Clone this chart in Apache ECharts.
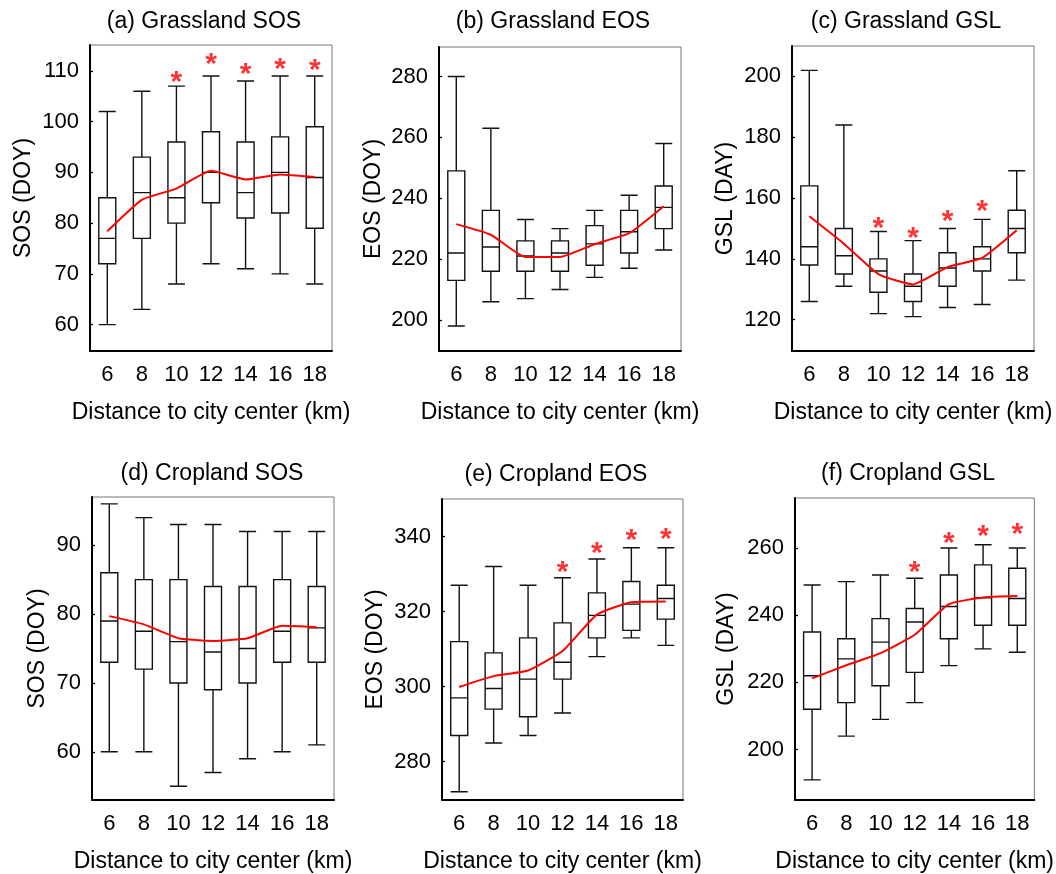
<!DOCTYPE html>
<html>
<head>
<meta charset="utf-8">
<script src="https://cdn.jsdelivr.net/npm/echarts@6/dist/echarts.min.js"></script>
<style>html,body{margin:0;padding:0;background:#fff;}#c{width:1056px;height:874px;}</style>
</head>
<body>
<div id="c"></div>
<script>
// ---------- DATA ----------
const categories = ['6', '8', '10', '12', '14', '16', '18'];
const xAxisName = 'Distance to city center (km)';

// box data: [min, Q1, median, Q3, max]
const grassSOSBox = [[60,72,77,85,102],[63,77,86,93,106],[68,80,85,96,107],[72,84,90,98,109],[71,81,86,96,108],[70,82,90,97,109],[68,79,89,99,109]];
const grassSOSMean = [78.4,84.6,86.8,90.3,88.6,89.6,89.1];
const grassSOSStar = [null,null,108.7,112.1,110.3,111.3,111.0];
const grassSOSTicks = [60,70,80,90,100,110];

const grassEOSBox = [[198,213,222,249,280],[206,216,224,236,263],[207,216,221,226,233],[210,216,222,226,230],[214,218,225,231,236],[217,222,229,236,241],[223,230,237,244,258]];
const grassEOSMean = [231.5,228,220.7,220.7,224.9,228.5,237.4];
const grassEOSStar = [null,null,null,null,null,null,null];
const grassEOSTicks = [200,220,240,260,280];

const grassGSLBox = [[126,138,144,164,202],[131,135,141,150,184],[122,129,136,140,149],[121,126,131,135,146],[124,131,137,142,150],[125,136,140,144,153],[133,142,150,156,169]];
const grassGSLMean = [154,145,135,131.6,137.3,140.3,149.4];
const grassGSLStar = [null,null,151.6,148.3,154,157,null];
const grassGSLTicks = [120,140,160,180,200];

const cropSOSBox = [[60,73,79,86,96],[60,72,77.5,85,94],[55,70,76,85,93],[57,69,74.5,84,93],[59,70,75,84,92],[60,73,77.5,85,92],[61,73,78,84,92]];
const cropSOSMean = [79.7,78.5,76.5,76.1,76.5,78.3,78.1];
const cropSOSStar = [null,null,null,null,null,null,null];
const cropSOSTicks = [60,70,80,90];

const cropEOSBox = [[272,287,297,312,327],[285,294,299.5,309,332],[287,292,302,313,327],[293,302,306.5,317,329],[308,313,319,325,334],[313,315,322,328,337],[311,318,323.5,327,337]];
const cropEOSMean = [299.9,302.8,304.3,309.5,319.2,322.5,322.7];
const cropEOSStar = [null,null,null,331.7,336.7,340.3,340.6];
const cropEOSTicks = [280,300,320,340];

const cropGSLBox = [[191,212,222,235,249],[204,214,227,233,250],[209,219,232,239,252],[214,223,238,242,251],[225,233,242.6,252,260],[230,237,245.2,255,261],[229,237,245,254,260]];
const cropGSLMean = [221.2,225.1,228.7,234.2,243.3,245.3,245.7];
const cropGSLStar = [null,null,null,254.1,262.9,264.9,265.4];
const cropGSLTicks = [200,220,240,260];

// ---------- LAYOUT ----------
const FONT = 'Liberation Sans, Arial, sans-serif';
const panels = [
  {title:'(a) Grassland SOS', yName:'SOS (DOY)', box:grassSOSBox, mean:grassSOSMean, star:grassSOSStar, ticks:grassSOSTicks, min:54.8, max:115.1, g:{left:90, top:45, width:242, height:306}, tx:204, ty:21, yGap:55},
  {title:'(b) Grassland EOS', yName:'EOS (DOY)', box:grassEOSBox, mean:grassEOSMean, star:grassEOSStar, ticks:grassEOSTicks, min:189.8, max:289.7, g:{left:439, top:47, width:242, height:304}, tx:553, ty:21, yGap:54},
  {title:'(c) Grassland GSL', yName:'GSL (DAY)', box:grassGSLBox, mean:grassGSLMean, star:grassGSLStar, ticks:grassGSLTicks, min:109.7, max:210, g:{left:792, top:46, width:242, height:305}, tx:906, ty:21, yGap:55},
  {title:'(d) Cropland SOS', yName:'SOS (DOY)', box:cropSOSBox, mean:cropSOSMean, star:cropSOSStar, ticks:cropSOSTicks, min:53, max:97, g:{left:92, top:497, width:242, height:306}, tx:212, ty:473, yGap:43},
  {title:'(e) Cropland EOS', yName:'EOS (DOY)', box:cropEOSBox, mean:cropEOSMean, star:cropEOSStar, ticks:cropEOSTicks, min:269.8, max:350, g:{left:442, top:499, width:241, height:305}, tx:556, ty:474, yGap:55},
  {title:'(f) Cropland GSL', yName:'GSL (DAY)', box:cropGSLBox, mean:cropGSLMean, star:cropGSLStar, ticks:cropGSLTicks, min:185, max:274.9, g:{left:795, top:498, width:241, height:305}, tx:908, ty:473, yGap:57}
];

const option = {
  animation: false,
  backgroundColor: '#fff',
  textStyle: {fontFamily: FONT},
  title: [], grid: [], xAxis: [], yAxis: [], series: []
};

panels.forEach((p, i) => {
  option.title.push({
    text: p.title, left: p.tx, top: p.ty - 11, textAlign: 'center', padding: 0,
    textStyle: {fontSize: 23, fontWeight: 'normal', color: '#000', fontFamily: FONT}
  });
  option.grid.push(Object.assign({show: true, borderColor: '#777', borderWidth: 1, backgroundColor: 'transparent', containLabel: false}, p.g));
  option.xAxis.push({
    type: 'category', gridIndex: i, data: categories, boundaryGap: true,
    axisLine: {lineStyle: {color: '#000', width: 2}},
    axisTick: {inside: true, length: 8, alignWithLabel: true, lineStyle: {color: '#000', width: 1.3}},
    axisLabel: {fontSize: 22, color: '#000', margin: 13, fontFamily: FONT},
    splitLine: {show: false},
    name: xAxisName, nameLocation: 'middle', nameGap: 50,
    nameTextStyle: {fontSize: 23, color: '#000', fontFamily: FONT}
  });
  option.yAxis.push({
    type: 'value', gridIndex: i, min: p.min, max: p.max,
    axisLine: {show: true, lineStyle: {color: '#000', width: 2}},
    axisTick: {show: true, inside: true, length: 3, customValues: p.ticks, lineStyle: {color: '#000', width: 1.3}},
    axisLabel: {fontSize: 22, color: '#000', margin: 11, customValues: p.ticks, fontFamily: FONT},
    splitLine: {show: false},
    name: p.yName, nameLocation: 'middle', nameGap: p.yGap,
    nameTextStyle: {fontSize: 23, color: '#000', fontFamily: FONT}
  });
  option.series.push({
    type: 'boxplot', xAxisIndex: i, yAxisIndex: i, data: p.box, boxWidth: [17, 17],
    itemStyle: {color: 'transparent', borderColor: '#111', borderWidth: 1.4},
    emphasis: {disabled: true}, silent: true
  });
  option.series.push({
    type: 'line', xAxisIndex: i, yAxisIndex: i, data: p.mean, smooth: 0.15,
    symbol: 'none', lineStyle: {color: '#ff0000', width: 2}, silent: true, z: 5
  });
  option.series.push({
    type: 'scatter', xAxisIndex: i, yAxisIndex: i,
    data: p.star.map(v => v == null ? '-' : v),
    symbol: 'circle', symbolSize: 1, itemStyle: {color: 'rgba(0,0,0,0)'},
    label: {show: true, position: 'inside', formatter: '*', color: '#ff0000', fontSize: 30, fontWeight: 'bold', fontFamily: FONT, offset: [0, 5]},
    silent: true, z: 6
  });
});

const chart = echarts.init(document.getElementById('c'), null, {renderer: 'canvas'});
chart.setOption(option);
</script>
</body>
</html>
